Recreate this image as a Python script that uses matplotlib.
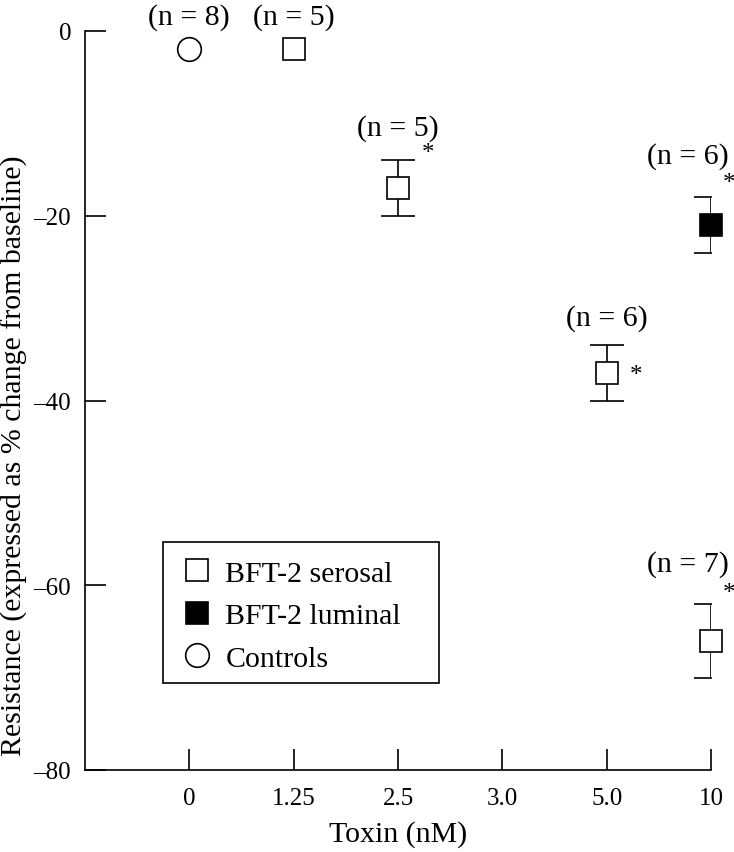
import matplotlib.pyplot as plt
from matplotlib.lines import Line2D
from matplotlib.patches import Rectangle

plt.rcParams['font.family'] = ['Liberation Serif', 'DejaVu Serif']

# category positions on x axis
toxin_labels = ['0', '1.25', '2.5', '3.0', '5.0', '10']

# controls
ctrl_x = [0]
ctrl_y = [-2]

# BFT-2 serosal
ser_x = [1, 2, 4, 5]
ser_y = [-2, -17, -37, -66]
ser_err = [0, 3, 3, 4]

# BFT-2 luminal
lum_x = [5]
lum_y = [-21]
lum_err = [3]

# n annotations (x, y, text)
n_x = [0, 1, 2, 4, 4.78, 4.78]
n_y = [1.6, 1.6, -10.4, -31.0, -13.5, -57.7]
n_txt = ['(n = 8)', '(n = 5)', '(n = 5)', '(n = 6)', '(n = 6)', '(n = 7)']

# significance stars
star_x = [2.29, 4.28, 5.17, 5.17]
star_y = [-13.2, -37.2, -16.5, -60.8]

fig = plt.figure(figsize=(7.34, 8.53), dpi=100)
ax = fig.add_axes([85 / 734, 82 / 853, 626 / 734, 739 / 853])

ms = 16
ax.plot(ctrl_x, ctrl_y, 'o', ms=17, mfc='white', mec='black', mew=1.2, clip_on=False, zorder=3)
ax.errorbar(ser_x[1:], ser_y[1:], yerr=ser_err[1:], fmt='none', ecolor='black',
            elinewidth=1.2, capsize=12, capthick=1.2, zorder=2)
ax.plot(ser_x, ser_y, 's', ms=ms, mfc='white', mec='black', mew=1.2, clip_on=False, zorder=3)
ax.errorbar(lum_x, lum_y, yerr=lum_err, fmt='none', ecolor='black',
            elinewidth=1.2, capsize=12, capthick=1.2, zorder=2)
ax.plot(lum_x, lum_y, 's', ms=ms, mfc='black', mec='black', mew=1.2, clip_on=False, zorder=3)

for x, y, t in zip(n_x, n_y, n_txt):
    ax.text(x, y, t, ha='center', va='center', fontsize=21.5, clip_on=False)
for x, y in zip(star_x, star_y):
    ax.text(x, y, '*', ha='center', va='center', fontsize=18, clip_on=False)

ax.set_xlim(-1, 5)
ax.set_ylim(-80, 0)
ax.set_xticks(range(len(toxin_labels)))
ax.set_xticklabels(toxin_labels, fontsize=18)
ax.set_yticks([0, -20, -40, -60, -80])
ax.set_yticklabels(['0', '\u201320', '\u201340', '\u201360', '\u201380'], fontsize=18)
ax.tick_params(direction='in', length=15, width=1.2)
ax.tick_params(axis='x', pad=12)
ax.tick_params(axis='y', pad=10)
for s in ['top', 'right']:
    ax.spines[s].set_visible(False)
for s in ['left', 'bottom']:
    ax.spines[s].set_linewidth(1.2)

fig.text(398 / 734, 1 - 835 / 853, 'Toxin (nM)', ha='center', va='center', fontsize=21.5)
fig.text(14 / 734, 1 - 456 / 853, 'Resistance (expressed as % change from baseline)',
         ha='center', va='center', rotation=90, fontsize=21.5)

# legend box
ax.add_patch(Rectangle((163, 853 - 684), 276, 141, transform=None,
                       fill=False, ec='black', lw=1.2, zorder=4))
handles = [
    Line2D([], [], marker='s', ls='none', ms=ms, mfc='white', mec='black', mew=1.2),
    Line2D([], [], marker='s', ls='none', ms=ms, mfc='black', mec='black', mew=1.2),
    Line2D([], [], marker='o', ls='none', ms=17, mfc='white', mec='black', mew=1.2),
]
leg = ax.legend(handles, ['BFT-2 serosal', 'BFT-2 luminal', 'Controls'],
                loc='upper left', bbox_to_anchor=(94 / 626, 210 / 739),
                borderaxespad=0, fontsize=21.5, frameon=False,
                handletextpad=0.35, handlelength=1.2,
                labelspacing=0.52, borderpad=0)

fig.savefig('out.png', dpi=100)
